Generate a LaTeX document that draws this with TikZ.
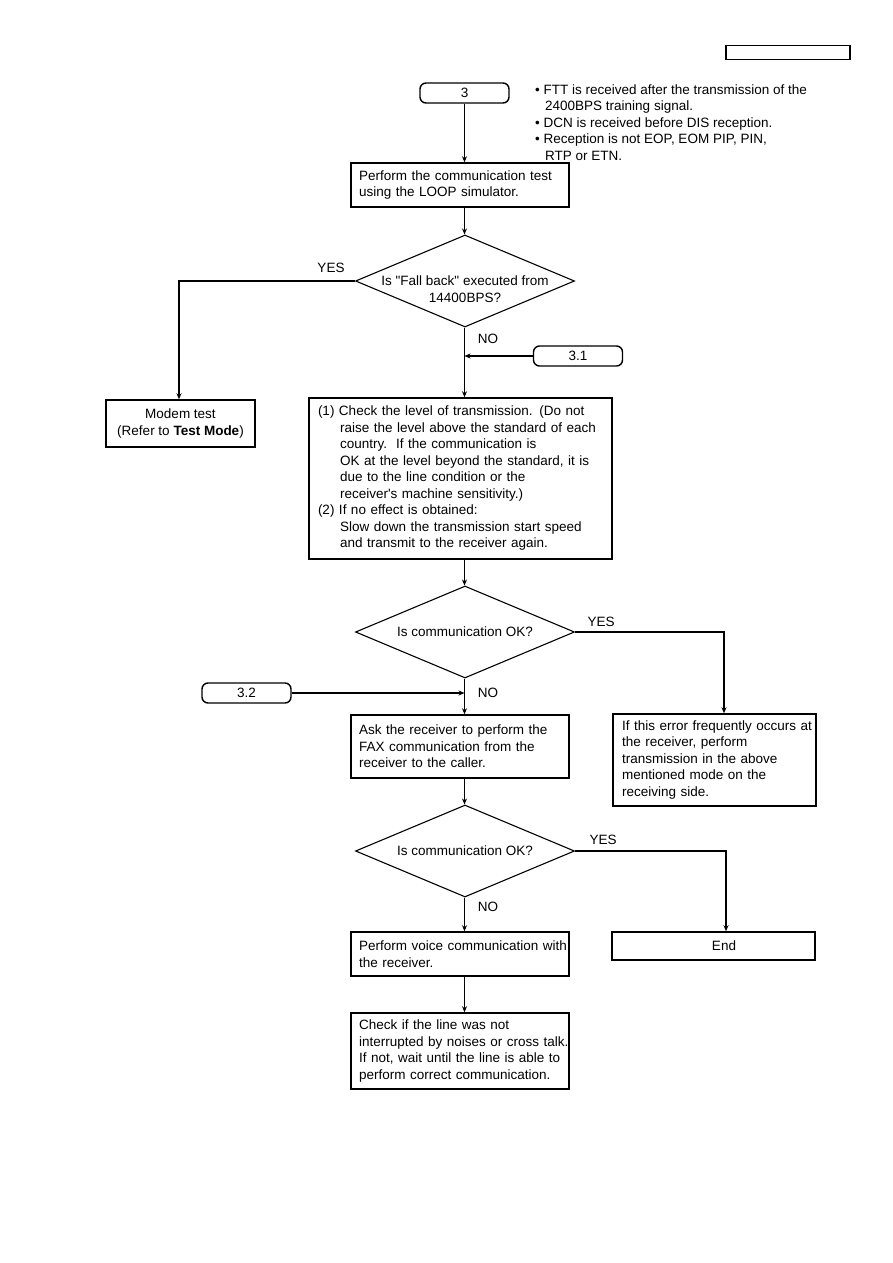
\documentclass[tikz,border=0pt]{standalone}
\usepackage{fontspec}
\setmainfont{Liberation Sans}[Ligatures=TeXOff]
\usetikzlibrary{shapes.geometric,arrows.meta}
\tikzset{every node/.style={font=\fontsize{13.5}{16.5}\selectfont},
 box/.style={draw,line width=1.5pt,rectangle,inner xsep=2pt,inner ysep=0pt},
 textbox/.style={box,text width=#1,align=left,execute at begin node={\leftskip=7pt\rightskip=-5pt plus 1fil}},
 actbox/.style={textbox=216pt,inner xsep=1pt},
 term/.style={draw,line width=1.4pt,rounded corners=6pt,minimum width=89pt,minimum height=20pt,inner sep=0pt},
 decision/.style={draw,line width=1.1pt,diamond,inner sep=0pt,minimum width=219pt,minimum height=92pt},
 flow/.style={draw,line width=1.7pt,-{Stealth[length=6pt,width=5pt]}},
 yesno/.style={inner sep=0pt},
 }

\begin{document}
\begin{tikzpicture}[x=1pt,y=-1pt]
    \useasboundingbox (0,0) rectangle (893,1263);
    \coordinate (col) at (464.5,0);
    \node[box,line width=1.2pt,minimum width=124pt,minimum height=13.5pt] (hdr) at (788,52.5) {};
    \node[term] (t3) at (464.5,93) {3};
    \node[anchor=west,align=left,inner sep=0pt] (notes) at (535,122.5) {\textbullet\ FTT is received after the transmission of the\\\hspace*{10pt}2400BPS training signal.\\\textbullet\ DCN is received before DIS reception.\\\textbullet\ Reception is not EOP, EOM PIP, PIN,\\\hspace*{10pt}RTP or ETN.};
    \node[actbox,minimum height=44pt] (b1) at (460,185) {Perform the communication test\\using the LOOP simulator.};
    \node[decision] (d1) at (465,281) {};
    \node[align=center] (q1) at ([yshift=-8pt]d1.center) {Is "Fall back" executed from\\14400BPS?};
    \node[box,minimum width=149pt,minimum height=47pt,align=center] (modem) at (180.5,423.5) {Modem test\\(Refer to \textbf{Test Mode})};
    \node[term] (t31) at (578,356) {3.1};
    \node[textbox=299pt,minimum height=161pt] (b2) at (460.5,478.5) {(1) Check the level of transmission. (Do not\\\hspace*{22pt}raise the level above the standard of each\\\hspace*{22pt}country.\ \ If the communication is\\\hspace*{22pt}OK at the level beyond the standard, it is\\\hspace*{22pt}due to the line condition or the\\\hspace*{22pt}receiver's machine sensitivity.)\\(2) If no effect is obtained:\\\hspace*{22pt}Slow down the transmission start speed\\\hspace*{22pt}and transmit to the receiver again.};
    \node[decision] (d2) at (465,632) {};
    \node (q2) at (d2) {Is communication OK?};
    \node[term] (t32) at (246.5,693) {3.2};
    \node[actbox,minimum height=63pt] (b3) at (460,746.5) {Ask the receiver to perform the\\FAX communication from the\\receiver to the caller.};
    \node[textbox=199pt,minimum height=92pt] (rbox) at (714.5,760) {If this error frequently occurs at\\the receiver, perform\\transmission in the above\\mentioned mode on the\\receiving side.};
    \node[decision] (d3) at (465,851) {};
    \node (q3) at (d3) {Is communication OK?};
    \node[actbox,minimum height=44pt] (b5) at (460,954) {Perform voice communication with\\the receiver.};
    \node[box,minimum width=203pt,minimum height=28pt] (endbox) at (713.5,946) {\hspace*{21pt}End};
    \node[actbox,minimum height=76pt] (b6) at (460,1051) {Check if the line was not\\interrupted by noises or cross talk.\\If not, wait until the line is able to\\perform correct communication.};
    \node[yesno] (y1) at (331,268) {YES};
    \node[yesno] (n1) at (488,339) {NO};
    \node[yesno] (y2) at (601,622) {YES};
    \node[yesno] (n2) at (488,693) {NO};
    \node[yesno] (y3) at (603,840) {YES};
    \node[yesno] (n3) at (488,907) {NO};
    \foreach \a/\b in {t3/b1,b1/d1,d1/b2,b2/d2,d2/b3,b3/d3,d3/b5,b5/b6} {
        \draw[flow] (\a.south -| col) -- (\b.north -| col);
    }
    \draw[flow] (t31.west) -- (t31.west -| col);
    \draw[flow] (t32.east) -- (t32.east -| col);
    \draw[flow] (d1.west) -| ([xshift=-1.5pt]modem.north);
    \draw[flow] (d2.east) -| ([xshift=9.5pt]rbox.north);
    \draw[flow] (d3.east) -| ([xshift=12.5pt]endbox.north);
\end{tikzpicture}
\end{document}
